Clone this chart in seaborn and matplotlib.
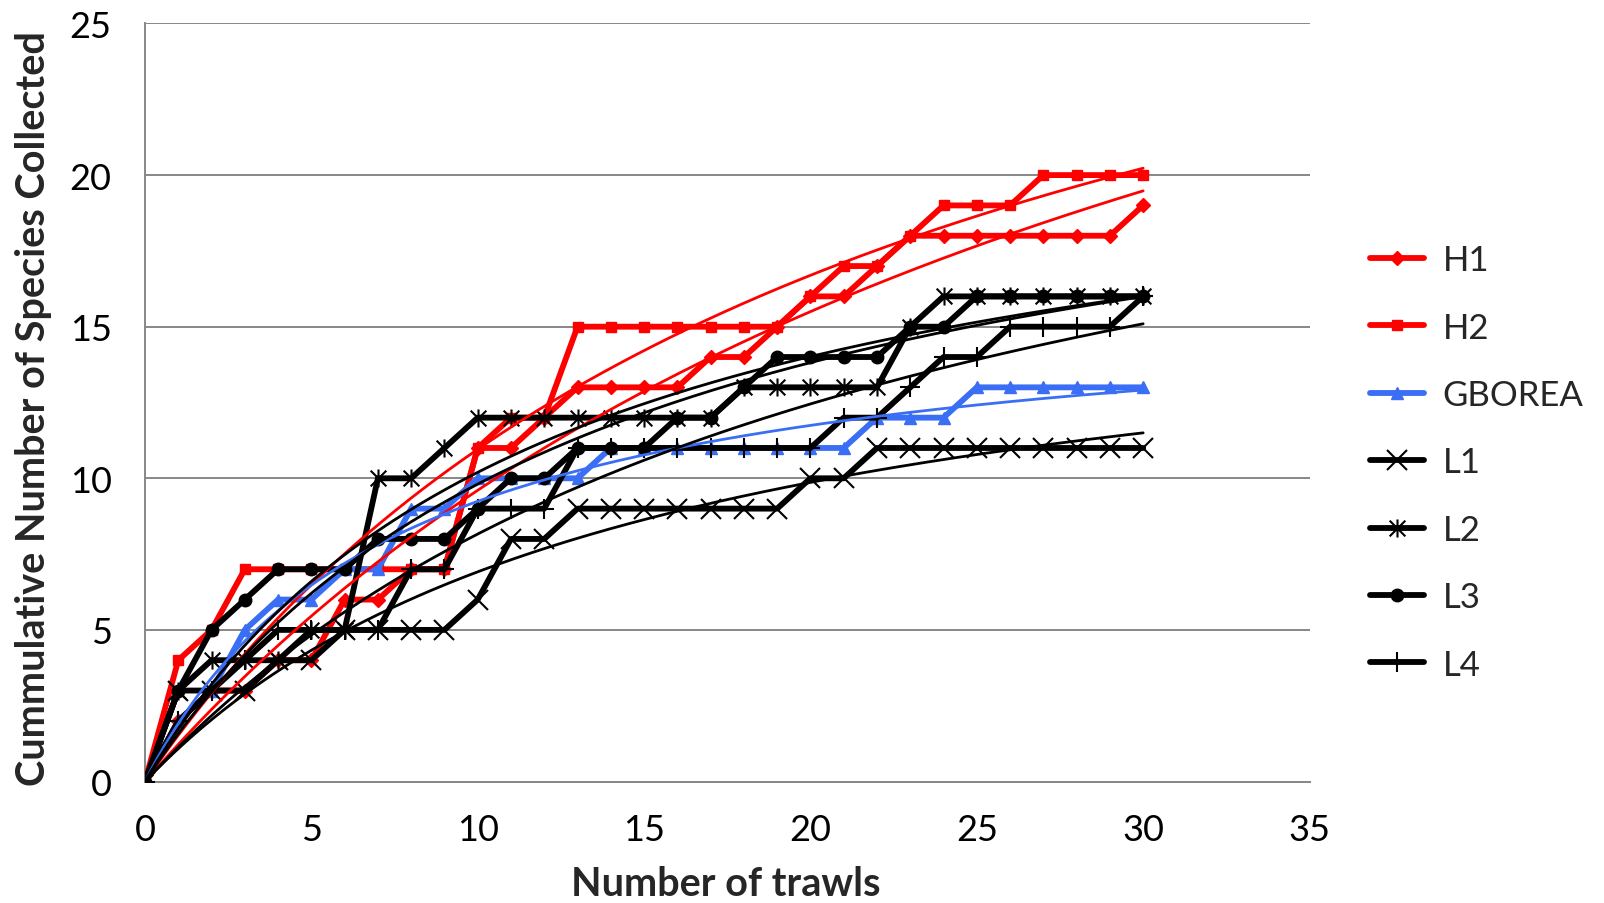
import numpy as np
import pandas as pd
import matplotlib
matplotlib.use("Agg")
import matplotlib.pyplot as plt
from matplotlib.path import Path
import seaborn as sns

# ---- data ----
trawls = list(range(0, 31))
H1 = [0, 2, 3, 3, 4, 4, 6, 6, 7, 7, 11, 11, 12, 13, 13, 13, 13, 14, 14, 15, 16, 16, 17, 18, 18, 18, 18, 18, 18, 18, 19]
H2 = [0, 4, 5, 7, 7, 7, 7, 7, 7, 7, 11, 12, 12, 15, 15, 15, 15, 15, 15, 15, 16, 17, 17, 18, 19, 19, 19, 20, 20, 20, 20]
GBOREA = [0, 2, 3, 5, 6, 6, 7, 7, 9, 9, 10, 10, 10, 10, 11, 11, 11, 11, 11, 11, 11, 11, 12, 12, 12, 13, 13, 13, 13, 13, 13]
L1 = [0, 3, 3, 3, 4, 4, 5, 5, 5, 5, 6, 8, 8, 9, 9, 9, 9, 9, 9, 9, 10, 10, 11, 11, 11, 11, 11, 11, 11, 11, 11]
L2 = [0, 3, 4, 4, 4, 5, 5, 10, 10, 11, 12, 12, 12, 12, 12, 12, 12, 12, 13, 13, 13, 13, 13, 15, 16, 16, 16, 16, 16, 16, 16]
L3 = [0, 3, 5, 6, 7, 7, 7, 8, 8, 8, 9, 10, 10, 11, 11, 11, 12, 12, 13, 14, 14, 14, 14, 15, 15, 16, 16, 16, 16, 16, 16]
L4 = [0, 2, 3, 4, 5, 5, 5, 5, 7, 7, 9, 9, 9, 11, 11, 11, 11, 11, 11, 11, 11, 12, 12, 13, 14, 14, 15, 15, 15, 15, 16]

series_names = ["H1", "H2", "GBOREA", "L1", "L2", "L3", "L4"]
series_values = [H1, H2, GBOREA, L1, L2, L3, L4]

x_ticks = [0, 5, 10, 15, 20, 25, 30, 35]
y_ticks = [0, 5, 10, 15, 20, 25]
x_label = "Number of trawls"
y_label = "Cummulative Number of Species Collected"

# ---- styles ----
RED = "#FF0000"
BLUE = "#3A6EF5"
BLACK = "#000000"

# Excel-style star marker: an "x" with a vertical bar through it
star_path = Path(
    [(-1, -1), (1, 1), (-1, 1), (1, -1), (0, -1.15), (0, 1.15)],
    [Path.MOVETO, Path.LINETO, Path.MOVETO, Path.LINETO, Path.MOVETO, Path.LINETO],
)

styles = {
    "H1": dict(color=RED, marker="D", ms=7, mew=1.0),
    "H2": dict(color=RED, marker="s", ms=7, mew=1.0),
    "GBOREA": dict(color=BLUE, marker="^", ms=8, mew=1.0),
    "L1": dict(color=BLACK, marker="x", ms=14, mew=1.5),
    "L2": dict(color=BLACK, marker=star_path, ms=13, mew=1.5),
    "L3": dict(color=BLACK, marker="o", ms=9, mew=1.0),
    "L4": dict(color=BLACK, marker="+", ms=15, mew=1.5),
}

sns.set_theme(style="white")
plt.rcParams["font.family"] = ["Lato", "DejaVu Sans"]

fig = plt.figure(figsize=(16.04, 9.04), dpi=100)
ax = fig.add_axes([0.0904, 0.1344, 0.7260, 0.8385])

df = pd.DataFrame({"trawls": trawls})
for name, vals in zip(series_names, series_values):
    df[name] = vals

for name in series_names:
    st = styles[name]
    sns.lineplot(data=df, x="trawls", y=name, ax=ax, color=st["color"],
                 marker=st["marker"], markersize=st["ms"], markeredgewidth=st["mew"],
                 markeredgecolor=st["color"], markerfacecolor=st["color"],
                 linewidth=4.2, label=name, zorder=3)


# Michaelis-Menten accumulation curves S(x) = Smax * x / (B + x), least squares
def mm_fit(x, y):
    best = None
    for B in np.linspace(0.5, 200, 4000):
        f = x / (B + x)
        s = np.dot(f, y) / np.dot(f, f)
        sse = np.sum((y - s * f) ** 2)
        if best is None or sse < best[0]:
            best = (sse, s, B)
    return best[1], best[2]


xs = np.linspace(0, 30, 300)
for name in series_names:
    x = np.array(trawls, dtype=float)
    y = np.array(df[name].values, dtype=float)
    smax, B = mm_fit(x, y)
    ys = smax * xs / (B + xs)
    sns.lineplot(x=xs, y=ys, ax=ax, color=styles[name]["color"], linewidth=2.0,
                 legend=False, zorder=4)

ax.set_xlim(0, 35)
ax.set_ylim(0, 25)
ax.set_xticks(x_ticks)
ax.set_yticks(y_ticks)
ax.yaxis.grid(True, color="#878787", linewidth=1.4)
ax.xaxis.grid(False)
ax.set_axisbelow(True)
for s in ["top", "right"]:
    ax.spines[s].set_visible(False)
for s in ["left", "bottom"]:
    ax.spines[s].set_color("#878787")
    ax.spines[s].set_linewidth(1.4)
ax.tick_params(axis="both", which="both", direction="out", colors="#878787",
               labelcolor="black", labelsize=26, width=1.4)
ax.tick_params(axis="y", length=10, pad=14)
ax.tick_params(axis="x", length=7, pad=16)
ax.set_xlabel(x_label, fontsize=28.5, fontweight="bold")
ax.set_ylabel(y_label, fontsize=28.5, fontweight="bold")
ax.xaxis.set_label_coords(0.499, -0.110)
ax.yaxis.set_label_coords(-0.080, 0.493)

leg = ax.legend(loc="center left", bbox_to_anchor=(1.025, 0.421), frameon=False,
                fontsize=25, handlelength=1.55, labelspacing=1.02, handletextpad=0.55)
for h in leg.legend_handles:
    h.set_linewidth(4.2)

fig.savefig("out.png", dpi=100)
